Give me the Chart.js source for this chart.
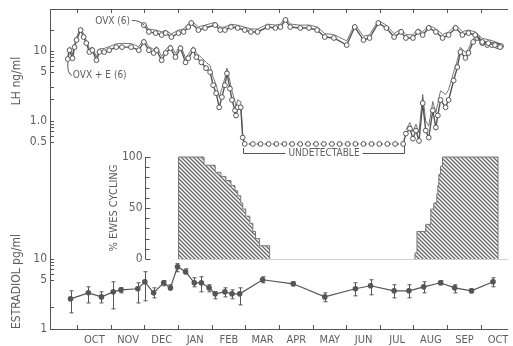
<!DOCTYPE html>
<html>
<head>
<meta charset="utf-8">
<script src="https://cdn.jsdelivr.net/npm/chart.js@4.4.0/dist/chart.umd.min.js"></script>
<style>
  html, body { margin: 0; padding: 0; background: #fff; }
  #wrap { width: 513px; height: 346px; }
</style>
</head>
<body>
<div id="wrap"><canvas id="chart" width="513" height="346"></canvas></div>
<script>
// x is in months, 0 = 1 October of the first year
const monthLabels = ['OCT', 'NOV', 'DEC', 'JAN', 'FEB', 'MAR', 'APR', 'MAY', 'JUN', 'JUL', 'AUG', 'SEP', 'OCT'];

// LH (ng/ml), ovariectomized ewes: mean and upper SE line
const ovxMonth = [1.97, 2.12, 2.32, 2.50, 2.62, 2.79, 3.00, 3.15, 3.29, 3.38, 3.59, 3.79, 4.09, 4.24, 4.38, 4.56, 4.76, 4.97, 5.15, 5.35,
  5.65, 5.88, 6.03, 6.18, 6.32, 6.62, 6.88, 7.12, 7.35, 7.62, 8.00, 8.24, 8.50, 8.68, 8.94, 9.18, 9.41, 9.62, 9.76, 9.97,
  10.12, 10.26, 10.44, 10.65, 10.85, 11.03, 11.24, 11.44, 11.62, 11.82, 12.03, 12.21, 12.41, 12.56];
const ovxLH = [23.6, 18.8, 18.1, 17.0, 18.1, 15.9, 18.1, 18.8, 22.1, 25.2, 20.0, 21.4, 23.6, 20.0, 20.0, 22.1, 21.4, 20.0, 18.8, 18.8,
  22.1, 21.4, 22.1, 27.9, 22.1, 21.4, 21.4, 20.0, 15.9, 15.4, 12.2, 22.1, 14.4, 15.4, 25.2, 21.4, 15.9, 18.8, 15.4, 15.4,
  18.8, 17.0, 21.4, 18.8, 15.4, 17.0, 21.4, 17.0, 18.1, 17.0, 13.5, 13.0, 12.2, 11.4];
const ovxHi = [25.5, 20.6, 20.0, 18.9, 19.8, 17.6, 19.9, 20.7, 24.3, 27.5, 22.2, 23.5, 25.8, 22.0, 22.1, 24.2, 23.5, 22.0, 20.8, 20.7,
  24.3, 23.6, 24.3, 30.4, 24.4, 23.5, 23.6, 22.2, 17.8, 17.2, 14.0, 24.2, 16.3, 17.1, 27.4, 23.5, 17.8, 20.7, 17.2, 17.1,
  20.8, 18.9, 23.4, 20.8, 17.3, 18.8, 23.5, 19.0, 20.0, 18.9, 15.2, 14.6, 13.7, 12.8];

// LH (ng/ml), ovariectomized ewes with estradiol implant
const undetectableLH = 0.47;
const ovxeMonth = [-0.29, -0.24, -0.15, -0.09, -0.03, 0.09, 0.18, 0.26, 0.35, 0.44, 0.56, 0.65, 0.79, 0.94, 1.15, 1.32, 1.59, 1.82, 1.97, 2.12,
  2.26, 2.35, 2.50, 2.62, 2.76, 2.91, 3.06, 3.21, 3.29, 3.44, 3.53, 3.68, 3.82, 3.94, 4.03, 4.12, 4.21, 4.29, 4.38, 4.44,
  4.53, 4.59, 4.68, 4.71, 4.76, 4.85, 4.91,
  4.97, 5.21, 5.44, 5.68, 5.91, 6.15, 6.38, 6.62, 6.85, 7.09, 7.32, 7.56, 7.79, 8.03, 8.26, 8.50, 8.74, 8.97, 9.21, 9.44, 9.68,
  9.76, 9.88, 9.97, 10.06, 10.15, 10.26, 10.35, 10.44, 10.56, 10.65, 10.71, 10.79, 10.94, 11.03, 11.18, 11.29, 11.38, 11.53, 11.62, 11.76,
  11.88, 12.03, 12.18, 12.32, 12.47, 12.59];
const ovxeLH = [7.7, 10.3, 7.9, 11.4, 14.4, 20.0, 15.9, 13.0, 9.7, 10.3, 7.4, 9.7, 9.7, 10.3, 11.4, 11.4, 11.4, 10.3, 13.5, 10.3,
  9.4, 10.3, 7.4, 9.4, 11.0, 8.2, 11.0, 6.9, 7.9, 10.3, 8.2, 6.9, 5.7, 5.0, 3.25, 2.5, 1.57, 2.2, 3.25, 4.8,
  2.9, 2.0, 1.42, 1.2, 1.57, 1.57, 0.58,
  0.47, 0.47, 0.47, 0.47, 0.47, 0.47, 0.47, 0.47, 0.47, 0.47, 0.47, 0.47, 0.47, 0.47, 0.47, 0.47, 0.47, 0.47, 0.47, 0.47, 0.47,
  0.66, 0.78, 0.56, 0.73, 0.52, 1.8, 0.73, 0.58, 1.42, 0.81, 1.2, 2.0, 1.57, 2.0, 3.8, 5.9, 9.7, 8.0, 9.4, 13.5,
  15.4, 13.0, 12.2, 12.2, 11.8, 11.8];
const ovxeHi = [8.6, 11.5, 8.9, 12.6, 15.8, 21.8, 17.5, 14.3, 10.8, 11.4, 8.3, 10.8, 10.9, 11.6, 12.7, 12.9, 12.8, 11.6, 14.9, 11.5,
  10.6, 11.6, 8.4, 10.5, 12.3, 9.3, 12.2, 7.9, 9.0, 11.5, 9.4, 8.1, 6.9, 6.2, 4.2, 3.3, 2.2, 2.9, 4.1, 5.7,
  3.7, 2.7, 1.9, 1.6, 2.0, 1.9, 0.62,
  null, null, null, null, null, null, null, null, null, null, null, null, null, null, null, null, null, null, null, null, null,
  0.75, 0.95, 0.7, 0.9, 0.68, 2.4, 1.0, 0.85, 1.9, 1.3, 1.8, 2.7, 2.4, 2.8, 5.0, 7.4, 11.3, 9.6, 10.8, 15.0,
  16.8, 14.3, 13.4, 13.3, 12.9, 12.8];

// estradiol (pg/ml), mean with error bar ends
const estMonth = [-0.21, 0.32, 0.71, 1.06, 1.29, 1.79, 2.00, 2.26, 2.56, 2.76, 2.97, 3.21, 3.47, 3.68, 3.91, 4.09, 4.38, 4.59, 4.82, 5.50,
  6.41, 7.35, 8.26, 8.71, 9.41, 9.85, 10.29, 10.79, 11.21, 11.71, 12.35];
const estMean = [2.70, 3.29, 2.88, 3.40, 3.63, 3.76, 4.73, 3.29, 4.58, 3.88, 7.78, 6.59, 4.58, 4.58, 3.88, 3.18, 3.40, 3.18, 3.18, 5.06,
  4.43, 2.88, 3.76, 4.15, 3.52, 3.52, 4.01, 4.58, 3.88, 3.52, 4.73];
const estHigh = [3.52, 4.01, 3.40, 4.73, 3.88, 4.58, 6.59, 3.88, 4.90, 4.29, 8.60, 7.25, 5.40, 5.58, 4.29, 3.40, 3.88, 3.63, 3.88, 5.58,
  4.73, 3.29, 4.58, 5.06, 4.29, 4.29, 4.73, 4.90, 4.29, 3.76, 5.40];
const estLow = [1.70, 2.36, 2.36, 1.94, 3.29, 2.36, 2.53, 2.79, 4.15, 3.63, 6.59, 6.15, 4.01, 3.40, 3.40, 2.70, 2.88, 2.70, 2.21, 4.58,
  4.15, 2.45, 2.98, 3.08, 2.79, 2.79, 3.29, 4.29, 3.29, 3.29, 4.01];

// % ewes cycling (step outlines)
const cycOffMonth = [3.00, 3.00, 3.76, 4.09, 4.26, 4.41, 4.56, 4.68, 4.76, 4.85, 4.91, 5.00, 5.12, 5.21, 5.29, 5.41, 5.71];
const cycOffPct = [0, 100, 92, 85, 81, 77, 72, 67, 62, 55, 49, 42, 35, 27, 20, 13, 0];
const cycOnMonth = [10.03, 10.03, 10.09, 10.35, 10.50, 10.59, 10.68, 10.71, 10.74, 10.79, 10.85, 12.50];
const cycOnPct = [0, 6, 27, 34, 49, 55, 64, 72, 83, 91, 100, 0];

// axis ticks
const lhTicks = [0.5, 0.6, 0.7, 0.8, 0.9, 1, 2, 3, 5, 6, 7, 8, 9, 10, 20];
const lhTickLabels = {10: '10', 5: '5', 1: '1.0', 0.5: '0.5'};
const estTicks = [1, 2, 5, 6, 7, 8, 9, 10];
const estTickLabels = {10: '10', 5: '5', 1: '1'};
const pctTicks = [0, 10, 20, 30, 40, 50, 60, 70, 80, 90, 100];
const pctTickLabels = [0, 50, 100];

const xRange = [-0.82, 12.79];
const lhRange = [0.35, 40];
const estRange = [1, 330];
const pctRange = [-68.6, 245.1];
const pctAxisMonth = 2.01;

const ink = '#555';
const textInk = '#5e5e5e';
const fontFamily = "'Liberation Sans Narrow', 'DejaVu Sans Condensed', 'Liberation Sans', sans-serif";

function pts(xs, ys) {
  return xs.map((x, i) => ({x: x, y: ys[i]}));
}

function hatch() {
  const c = document.createElement('canvas');
  c.width = 4; c.height = 4;
  const g = c.getContext('2d');
  g.fillStyle = '#fff';
  g.fillRect(0, 0, 4, 4);
  g.strokeStyle = '#666';
  g.lineWidth = 1.3;
  g.beginPath();
  g.moveTo(-1, -1); g.lineTo(5, 5);
  g.moveTo(-1, 3); g.lineTo(1, 5);
  g.moveTo(3, -1); g.lineTo(5, 1);
  g.stroke();
  return g.createPattern(c, 'repeat');
}

// no extra room for the first/last labels, the frame sits where the figure has it
function noPad(s) {
  s.paddingTop = 0; s.paddingBottom = 0; s.paddingLeft = 0; s.paddingRight = 0;
}

const monthEdges = monthLabels.map((m, i) => i);
const monthTicks = [];
monthLabels.forEach((m, i) => { monthTicks.push(i, i + 0.5); });

// things the library has no element for: error bars, inset axis, notes
const overlay = {
  id: 'overlay',
  afterDatasetsDraw(chart) {
    const ctx = chart.ctx;
    const sx = chart.scales.x, yL = chart.scales.yLH, yE = chart.scales.yE, yP = chart.scales.yPct;
    ctx.save();
    ctx.strokeStyle = ink;
    ctx.fillStyle = textInk;
    ctx.lineWidth = 1;

    // error bars
    ctx.beginPath();
    estMonth.forEach((m, i) => {
      const px = Math.round(sx.getPixelForValue(m)) + 0.5;
      const top = yE.getPixelForValue(estHigh[i]);
      const bot = yE.getPixelForValue(estLow[i]);
      ctx.moveTo(px, top); ctx.lineTo(px, bot);
      ctx.moveTo(px - 2, top); ctx.lineTo(px + 2, top);
      ctx.moveTo(px - 2, bot); ctx.lineTo(px + 2, bot);
    });
    ctx.stroke();

    // baseline under the cycling bars
    const p0 = yP.getPixelForValue(0), p100 = yP.getPixelForValue(100);
    ctx.save();
    ctx.strokeStyle = '#cfcfcf';
    ctx.beginPath();
    ctx.moveTo(sx.getPixelForValue(cycOffMonth[0]), Math.round(p0) + 0.5);
    ctx.lineTo(chart.chartArea.right, Math.round(p0) + 0.5);
    ctx.stroke();
    ctx.restore();

    // % ewes cycling axis
    const ax = Math.round(sx.getPixelForValue(pctAxisMonth)) + 0.5;
    ctx.beginPath();
    ctx.moveTo(ax, p0); ctx.lineTo(ax, p100);
    pctTicks.forEach(v => {
      const py = Math.round(yP.getPixelForValue(v)) + 0.5;
      ctx.moveTo(ax, py);
      ctx.lineTo(ax + (v % 50 === 0 ? 5 : 4), py);
    });
    ctx.stroke();
    ctx.font = '12px ' + fontFamily;
    ctx.textAlign = 'right';
    ctx.textBaseline = 'middle';
    pctTickLabels.forEach(v => ctx.fillText(String(v), ax - 3, yP.getPixelForValue(v)));
    ctx.save();
    ctx.translate(ax - 31, (p0 + p100) / 2);
    ctx.rotate(-Math.PI / 2);
    ctx.textAlign = 'center';
    ctx.font = '11px ' + fontFamily;
    ctx.fillText('% EWES CYCLING', 0, 0);
    ctx.restore();

    // undetectable bracket
    const bx0 = Math.round(sx.getPixelForValue(4.91)) + 0.5;
    const bx1 = Math.round(sx.getPixelForValue(9.71)) + 0.5;
    const by = Math.round(yL.getPixelForValue(0.354)) + 0.5;
    const byL = yL.getPixelForValue(0.41), byR = yL.getPixelForValue(0.44);
    const mid = (bx0 + bx1) / 2;
    ctx.font = '10px ' + fontFamily;
    ctx.textAlign = 'center';
    const label = 'UNDETECTABLE';
    const half = ctx.measureText(label).width / 2 + 3;
    ctx.fillText(label, mid, by);
    ctx.beginPath();
    ctx.moveTo(bx0, byL); ctx.lineTo(bx0, by); ctx.lineTo(mid - half, by);
    ctx.moveTo(mid + half, by); ctx.lineTo(bx1, by); ctx.lineTo(bx1, byR);
    ctx.stroke();

    // series labels with leader lines
    ctx.textAlign = 'right';
    ctx.fillText('OVX (6)', sx.getPixelForValue(1.56), yL.getPixelForValue(27));
    ctx.beginPath();
    ctx.moveTo(sx.getPixelForValue(1.62), yL.getPixelForValue(27.5));
    ctx.quadraticCurveTo(sx.getPixelForValue(1.85), yL.getPixelForValue(27.5), sx.getPixelForValue(1.98), yL.getPixelForValue(23.5));
    ctx.stroke();
    ctx.textAlign = 'left';
    ctx.fillText('OVX + E (6)', sx.getPixelForValue(-0.14), yL.getPixelForValue(4.5));
    ctx.beginPath();
    ctx.moveTo(sx.getPixelForValue(-0.29), yL.getPixelForValue(7.0));
    ctx.quadraticCurveTo(sx.getPixelForValue(-0.31), yL.getPixelForValue(4.7), sx.getPixelForValue(-0.17), yL.getPixelForValue(4.5));
    ctx.stroke();
    ctx.restore();
  }
};

const lhLine = {
  yAxisID: 'yLH',
  borderColor: ink,
  borderWidth: 1.4,
  pointRadius: 2.4,
  pointBackgroundColor: '#fff',
  pointBorderColor: ink,
  pointBorderWidth: 1,
  tension: 0,
  order: 1
};

const seLine = {
  yAxisID: 'yLH',
  borderColor: '#666',
  borderWidth: 0.9,
  pointRadius: 0,
  tension: 0,
  spanGaps: false,
  order: 2
};

new Chart(document.getElementById('chart').getContext('2d'), {
  type: 'line',
  data: {
    datasets: [
      Object.assign({label: 'OVX (6) SE', data: pts(ovxMonth, ovxHi)}, seLine),
      Object.assign({label: 'OVX + E (6) SE', data: pts(ovxeMonth, ovxeHi)}, seLine),
      Object.assign({label: 'OVX (6)', data: pts(ovxMonth, ovxLH)}, lhLine),
      Object.assign({
        label: 'OVX + E (6)',
        data: pts(ovxeMonth, ovxeLH),
        segment: {
          borderDash: c => (c.p0.parsed.y === undetectableLH && c.p1.parsed.y === undetectableLH) ? [2, 2] : undefined
        }
      }, lhLine),
      {
        label: 'Estradiol',
        data: pts(estMonth, estMean),
        yAxisID: 'yE',
        borderColor: ink,
        borderWidth: 1.2,
        pointRadius: 2.2,
        pointBackgroundColor: ink,
        pointBorderColor: ink,
        tension: 0,
        order: 1
      },
      {
        label: 'cycling (winter)',
        data: pts(cycOffMonth, cycOffPct),
        yAxisID: 'yPct',
        stepped: 'before',
        fill: 'origin',
        backgroundColor: hatch(),
        borderColor: '#777',
        borderWidth: 1,
        pointRadius: 0,
        order: 5
      },
      {
        label: 'cycling (autumn)',
        data: pts(cycOnMonth, cycOnPct),
        yAxisID: 'yPct',
        stepped: 'before',
        fill: 'origin',
        backgroundColor: hatch(),
        borderColor: '#777',
        borderWidth: 1,
        pointRadius: 0,
        order: 5
      }
    ]
  },
  options: {
    responsive: false,
    animation: false,
    layout: { padding: 0 },
    plugins: { legend: { display: false }, tooltip: { enabled: false } },
    scales: {
      x: {
        type: 'linear',
        position: 'bottom',
        min: xRange[0],
        max: xRange[1],
        afterBuildTicks: s => { s.ticks = monthTicks.map(v => ({value: v})); },
        afterFit: s => { s.height = 17; noPad(s); },
        ticks: {
          autoSkip: false,
          maxRotation: 0,
          padding: 9,
          color: textInk,
          font: { family: fontFamily, size: 11 },
          callback: v => (v % 1 === 0.5 ? monthLabels[Math.floor(v)] : '')
        },
        grid: {
          drawOnChartArea: false,
          tickLength: -4,
          tickColor: c => (c.tick && Number.isInteger(c.tick.value) ? ink : 'rgba(0,0,0,0)')
        },
        border: { color: ink }
      },
      x2: {
        type: 'linear',
        position: 'top',
        min: xRange[0],
        max: xRange[1],
        afterBuildTicks: s => { s.ticks = monthEdges.map(v => ({value: v})); },
        afterFit: s => { s.height = 9; noPad(s); },
        ticks: { display: false },
        grid: { drawOnChartArea: false, tickLength: -4, tickColor: ink },
        border: { color: ink }
      },
      yLH: {
        type: 'logarithmic',
        position: 'left',
        stack: 'left',
        stackWeight: Math.log10(lhRange[1] / lhRange[0]),
        weight: 2,
        min: lhRange[0],
        max: lhRange[1],
        afterBuildTicks: s => { s.ticks = lhTicks.map(v => ({value: v})); },
        afterFit: s => { s.width = 50; noPad(s); },
        ticks: {
          autoSkip: false,
          padding: 7,
          color: textInk,
          font: { family: fontFamily, size: 12 },
          callback: v => lhTickLabels[v] || ''
        },
        grid: { drawOnChartArea: false, tickLength: -4, tickColor: ink },
        border: { color: ink },
        title: {
          display: true,
          text: 'LH ng/ml',
          color: textInk,
          font: { family: fontFamily, size: 12 },
          padding: { top: 10, bottom: 0 }
        }
      },
      yE: {
        type: 'logarithmic',
        position: 'left',
        stack: 'left',
        stackWeight: Math.log10(estRange[1] / estRange[0]),
        weight: 1,
        min: estRange[0],
        max: estRange[1],
        afterBuildTicks: s => { s.ticks = estTicks.map(v => ({value: v})); },
        afterFit: s => { s.width = 50; noPad(s); },
        ticks: {
          autoSkip: false,
          padding: 7,
          color: textInk,
          font: { family: fontFamily, size: 12 },
          callback: v => estTickLabels[v] || ''
        },
        grid: { drawOnChartArea: false, tickLength: -4, tickColor: ink },
        border: { color: ink },
        title: {
          display: true,
          text: 'ESTRADIOL pg/ml',
          align: 'start',
          color: textInk,
          font: { family: fontFamily, size: 12 },
          padding: { top: 10, bottom: 0 }
        }
      },
      yPct: {
        type: 'linear',
        position: 'right',
        display: false,
        min: pctRange[0],
        max: pctRange[1]
      }
    }
  },
  plugins: [overlay]
});
</script>
</body>
</html>
